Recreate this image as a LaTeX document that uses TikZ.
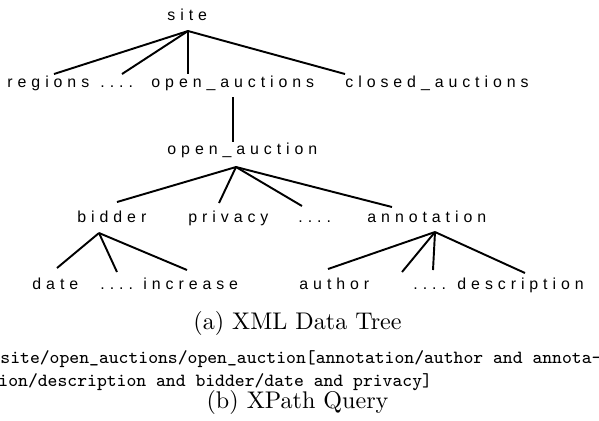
\documentclass[tikz,border=0pt]{standalone}
\usepackage{fontspec}
\newfontfamily\treefont[LetterSpace=31]{Liberation Sans}
\usetikzlibrary{calc}
\begin{document}
\begin{tikzpicture}[x=0.415pt,y=-0.415pt,
  tn/.style={font=\treefont\fontsize{6.6}{8}\selectfont, inner sep=0pt, anchor=base west},
  captxt/.style={font=\fontsize{10}{12}\selectfont, inner sep=0pt, anchor=base},
  query/.style={font=\fontsize{7.7}{9}\selectfont\ttfamily, inner sep=0pt, anchor=base west},
  edge/.style={line width=0.8pt, black}]
\fill[white] (0,0) rectangle (599,420);
\useasboundingbox (0,0) rectangle (599,420);
% level 0
\node[tn] (site) at (167,20) {site};
% level 1
\node[tn] (regions) at (7,87) {regions};
\node[tn] (dotsa) at (100,87) {....};
\node[tn] (oas) at (151,87) {open\_auctions};
\node[tn] (cas) at (345,87) {closed\_auctions};
% level 2
\node[tn] (oa) at (167,154) {open\_auction};
% level 3
\node[tn] (bidder) at (77,222) {bidder};
\node[tn] (privacy) at (188,222) {privacy};
\node[tn] (dotsb) at (298,222) {....};
\node[tn] (annot) at (367,222) {annotation};
% level 4
\node[tn] (date) at (32,289) {date};
\node[tn] (dotsc) at (100,289) {....};
\node[tn] (incr) at (143,289) {increase};
\node[tn] (author) at (299,289) {author};
\node[tn] (dotsd) at (413,289) {....};
\node[tn] (descr) at (457,289) {description};
% edges
\draw[edge] ($(site.base west)+(21,11)$) -- ($(regions.base west)+(47,-13)$);
\draw[edge] ($(site.base west)+(21,11)$) -- ($(dotsa.base west)+(22,-13)$);
\draw[edge] ($(site.base west)+(21,11)$) -- ($(oas.base west)+(37,-13)$);
\draw[edge] ($(site.base west)+(21,11)$) -- ($(cas.base west)+(0,-13)$);
\draw[edge] ($(oas.base west)+(82,10)$) -- ($(oa.base west)+(66,-12)$);
\draw[edge] ($(oa.base west)+(69,13)$) -- ($(bidder.base west)+(40,-20)$);
\draw[edge] ($(oa.base west)+(69,13)$) -- ($(privacy.base west)+(31,-19)$);
\draw[edge] ($(oa.base west)+(69,13)$) -- ($(dotsb.base west)+(4,-16)$);
\draw[edge] ($(oa.base west)+(69,13)$) -- ($(annot.base west)+(25,-15)$);
\draw[edge] ($(bidder.base west)+(22,11)$) -- ($(date.base west)+(25,-21)$);
\draw[edge] ($(bidder.base west)+(22,11)$) -- ($(dotsc.base west)+(17,-17)$);
\draw[edge] ($(bidder.base west)+(22,11)$) -- ($(incr.base west)+(44,-19)$);
\draw[edge] ($(annot.base west)+(68,10)$) -- ($(author.base west)+(29,-20)$);
\draw[edge] ($(annot.base west)+(68,10)$) -- ($(dotsd.base west)+(-11,-17)$);
\draw[edge] ($(annot.base west)+(68,10)$) -- ($(dotsd.base west)+(20,-19)$);
\draw[edge] ($(annot.base west)+(68,10)$) -- ($(descr.base west)+(68,-16)$);
% captions
\node[captxt] (capa) at (297.5,329) {(a) XML Data Tree};
\node[query] (q1) at (0,363) {site/open\_auctions/open\_auction[annotation/author and annota-};
\node[query] (q2) at (-2,386) {ion/description and bidder/date and privacy]};
\node[captxt] (capb) at (297.5,408) {(b) XPath Query};
\end{tikzpicture}
\end{document}
